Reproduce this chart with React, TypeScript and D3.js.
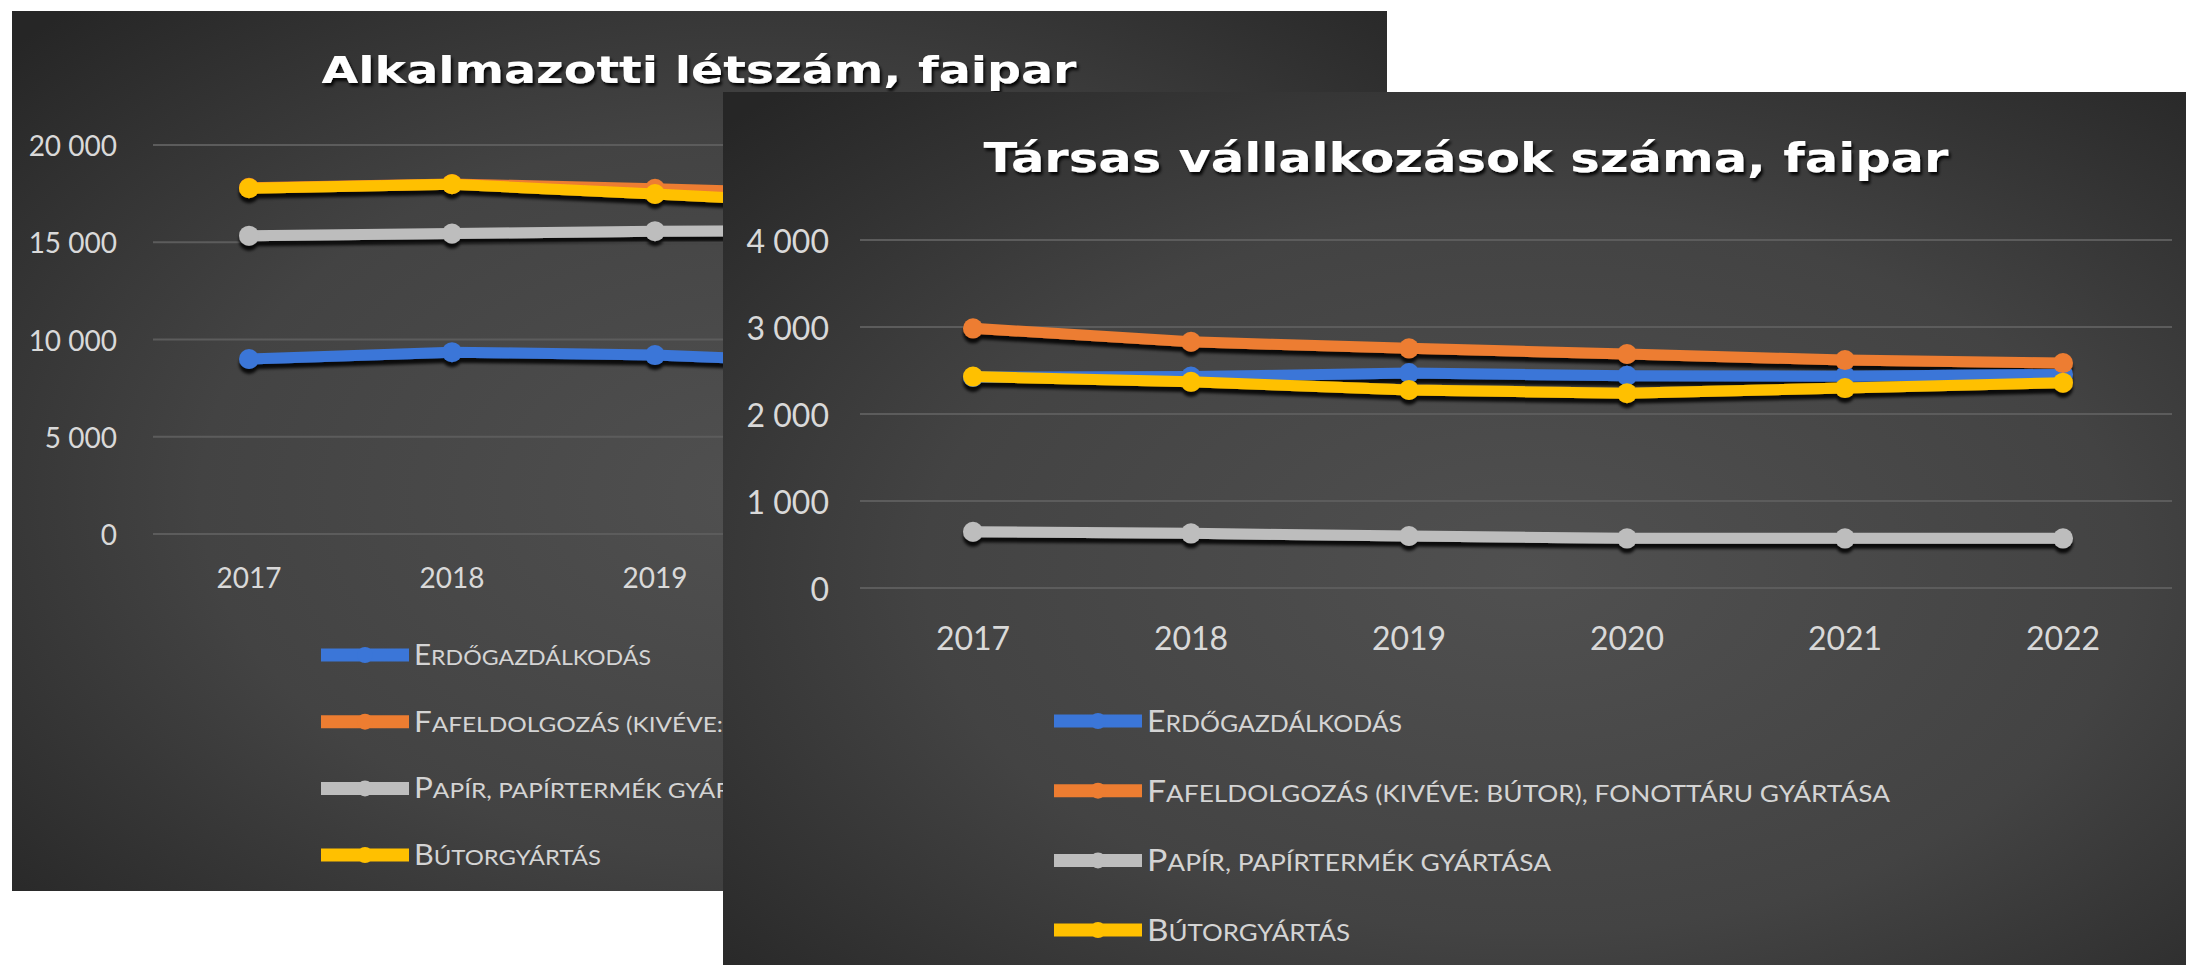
import React from "react";
import * as d3 from "d3";

const years = ["2017", "2018", "2019", "2020", "2021", "2022"];
const seriesNames = [
	"Erdőgazdálkodás",
	"Fafeldolgozás (kivéve: bútor), fonottáru gyártása",
	"Papír, papírtermék gyártása",
	"Bútorgyártás",
];
const seriesColors = ["#3b76d8", "#ed7d31", "#bdbdbd", "#ffc000"];

// Alkalmazotti létszám (2020-2022 are hidden behind the front chart)
const staffErdo = [9000, 9350, 9200, 8800, 8900, 9000];
const staffFa = [17800, 18000, 17750, 17450, 17200, 16900];
const staffPapir = [15340, 15450, 15570, 15600, 15700, 15500];
const staffButor = [17780, 17980, 17480, 16950, 17000, 16800];
const staffTicks = [0, 5000, 10000, 15000, 20000];

// Társas vállalkozások száma
const firmsErdo = [2425, 2430, 2470, 2440, 2435, 2455];
const firmsFa = [2985, 2830, 2755, 2690, 2620, 2585];
const firmsPapir = [647, 628, 598, 571, 571, 571];
const firmsButor = [2430, 2370, 2276, 2238, 2298, 2360];
const firmsTicks = [0, 1000, 2000, 3000, 4000];

const fmt = d3
	.formatLocale({ decimal: ",", thousands: " ", grouping: [3], currency: ["", ""] })
	.format(",d");

interface PanelProps {
	id: string;
	box: [number, number, number, number];
	title: string;
	titleX: number;
	titleY: number;
	titleSize: number;
	titleLen: number;
	series: number[][];
	ticks: number[];
	xRange: [number, number];
	yRange: [number, number];
	gridX: [number, number];
	tickRight: number;
	tickSize: number;
	xLabelY: number;
	legendX: number;
	legendY: number;
	legendGap: number;
	legendSize: number;
	legendLens: number[];
}

const Panel: React.FC<PanelProps> = (p) => {
	const [bx, by, bw, bh] = p.box;
	const x = d3.scalePoint<string>().domain(years).range(p.xRange);
	const y = d3
		.scaleLinear()
		.domain([0, p.ticks[p.ticks.length - 1]])
		.range(p.yRange);
	const line = d3
		.line<number>()
		.x((_, i) => x(years[i]) as number)
		.y((d) => y(d));

	return (
		<g>
			<defs>
				<radialGradient id={`bg-${p.id}`} cx="0.55" cy="0.55" r="0.75">
					<stop offset="0" stopColor="#505050" />
					<stop offset="0.55" stopColor="#434343" />
					<stop offset="1" stopColor="#262626" />
				</radialGradient>
				<clipPath id={`clip-${p.id}`}>
					<rect x={bx} y={by} width={bw} height={bh} />
				</clipPath>
			</defs>
			<rect x={bx} y={by} width={bw} height={bh} fill={`url(#bg-${p.id})`} />
			<g clipPath={`url(#clip-${p.id})`}>
				<text
					x={p.titleX}
					y={p.titleY}
					textAnchor="middle"
					fontFamily="'DejaVu Sans', sans-serif"
					fontWeight="bold"
					fontSize={p.titleSize}
					fill="#ffffff"
					textLength={p.titleLen}
					lengthAdjust="spacingAndGlyphs"
					filter="url(#titleShadow)"
				>
					{p.title}
				</text>

				{p.ticks.map((t) => (
					<g key={t}>
						<line
							x1={p.gridX[0]}
							x2={p.gridX[1]}
							y1={y(t)}
							y2={y(t)}
							stroke="#5c5c5c"
							strokeWidth={2}
						/>
						<text
							x={p.tickRight}
							y={y(t)}
							textAnchor="end"
							dominantBaseline="central"
							fontFamily="Lato, sans-serif"
							fontSize={p.tickSize}
							fill="#d9d9d9"
						>
							{fmt(t)}
						</text>
					</g>
				))}

				{years.map((yr) => (
					<text
						key={yr}
						x={x(yr)}
						y={p.xLabelY}
						textAnchor="middle"
						dominantBaseline="central"
						fontFamily="Lato, sans-serif"
						fontSize={p.tickSize}
						fill="#d9d9d9"
					>
						{yr}
					</text>
				))}

				<g filter="url(#lineShadow)">
					{p.series.map((vals, si) => (
						<g key={si}>
							<path
								d={line(vals) ?? ""}
								fill="none"
								stroke={seriesColors[si]}
								strokeWidth={11}
								strokeLinejoin="round"
							/>
							{vals.map((v, i) => (
								<circle
									key={i}
									cx={x(years[i])}
									cy={y(v)}
									r={10}
									fill={seriesColors[si]}
								/>
							))}
						</g>
					))}
				</g>

				{seriesNames.map((name, i) => {
					const cy = p.legendY + i * p.legendGap;
					return (
						<g key={name}>
							<line
								x1={p.legendX}
								x2={p.legendX + 88}
								y1={cy}
								y2={cy}
								stroke={seriesColors[i]}
								strokeWidth={13}
							/>
							<circle cx={p.legendX + 44} cy={cy} r={8} fill={seriesColors[i]} />
							<text
								x={p.legendX + 93}
								y={cy + p.legendSize * 0.36}
								fontFamily="Lato, sans-serif"
								fontSize={p.legendSize}
								fill="#d4d4d4"
								textLength={p.legendLens[i]}
								lengthAdjust="spacingAndGlyphs"
							>
								<tspan>{name.slice(0, 1)}</tspan>
								<tspan fontSize={p.legendSize * 0.78}>{name.slice(1).toUpperCase()}</tspan>
							</text>
						</g>
					);
				})}
			</g>
		</g>
	);
};

export default function App() {
	return (
		<svg
			width={2186}
			height={965}
			style={{ position: "absolute", left: 0, top: 0, background: "#ffffff" }}
		>
			<defs>
				<filter id="titleShadow" x="-5%" y="-30%" width="110%" height="160%">
					<feDropShadow dx="2" dy="3" stdDeviation="1.5" floodColor="#000" floodOpacity="0.9" />
				</filter>
				<filter id="lineShadow" x="-5%" y="-20%" width="110%" height="140%">
					<feDropShadow dx="0" dy="5" stdDeviation="1.5" floodColor="#000" floodOpacity="0.85" />
				</filter>
			</defs>

			<Panel
				id="staff"
				box={[12, 11, 1375, 880]}
				title="Alkalmazotti létszám, faipar"
				titleX={699}
				titleY={83}
				titleSize={38}
				titleLen={755}
				series={[staffErdo, staffFa, staffPapir, staffButor]}
				ticks={staffTicks}
				xRange={[249, 1264]}
				yRange={[534, 145]}
				gridX={[153, 1330]}
				tickRight={117}
				tickSize={28}
				xLabelY={577}
				legendX={321}
				legendY={655}
				legendGap={66.7}
				legendSize={28}
				legendLens={[237, 690, 375, 187]}
			/>

			<Panel
				id="firms"
				box={[723, 92, 1463, 873]}
				title="Társas vállalkozások száma, faipar"
				titleX={1466}
				titleY={172}
				titleSize={41}
				titleLen={965}
				series={[firmsErdo, firmsFa, firmsPapir, firmsButor]}
				ticks={firmsTicks}
				xRange={[973, 2063]}
				yRange={[588, 240]}
				gridX={[860, 2172]}
				tickRight={829}
				tickSize={32}
				xLabelY={637}
				legendX={1054}
				legendY={721}
				legendGap={69.7}
				legendSize={30}
				legendLens={[255, 743, 404, 203]}
			/>
		</svg>
	);
}
